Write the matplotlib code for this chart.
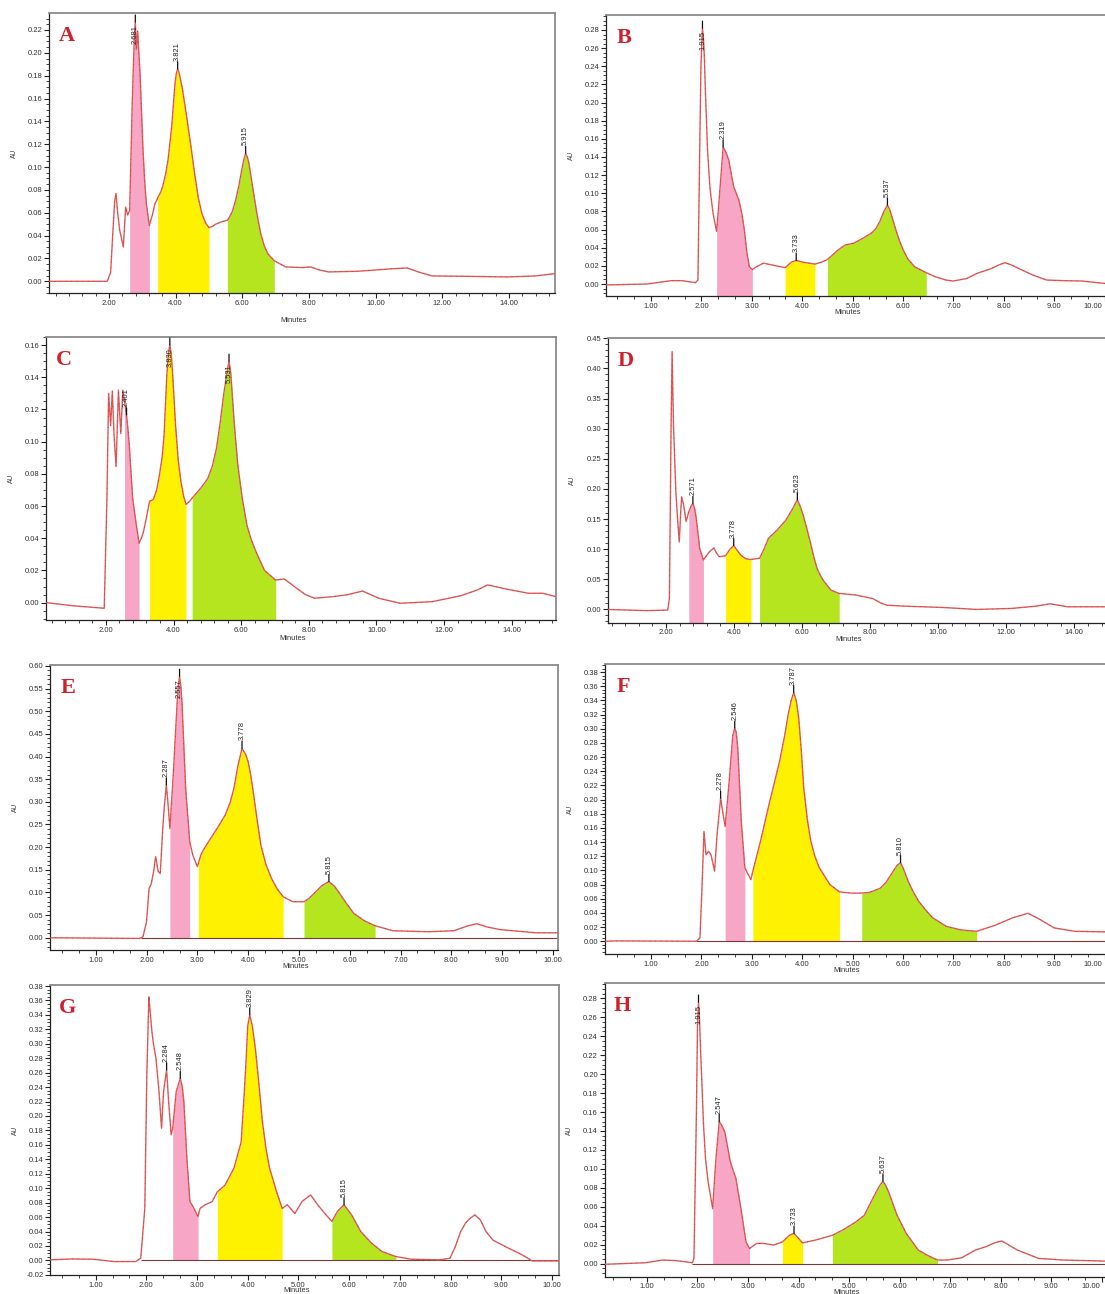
import numpy as np
import matplotlib
matplotlib.use("Agg")
import matplotlib.pyplot as plt
import matplotlib.transforms as mtransforms
from matplotlib.ticker import MultipleLocator, AutoMinorLocator, FormatStrFormatter
from matplotlib import font_manager

# ---------------- data (time in minutes, absorbance in AU) ----------------
trace_A = [(0.20, 0.000), (0.50, 0.000), (1.00, 0.000), (1.50, 0.000), (1.95, 0.000), (2.05, 0.008),
           (2.12, 0.045), (2.17, 0.070), (2.21, 0.077), (2.26, 0.060), (2.32, 0.045), (2.43, 0.030),
           (2.47, 0.050), (2.50, 0.065), (2.56, 0.058), (2.59, 0.060), (2.62, 0.062), (2.66, 0.110),
           (2.70, 0.159), (2.76, 0.214), (2.79, 0.227), (2.82, 0.203), (2.86, 0.219), (2.93, 0.182),
           (2.98, 0.145), (3.02, 0.115), (3.07, 0.088), (3.12, 0.068), (3.21, 0.049), (3.30, 0.058),
           (3.38, 0.068), (3.45, 0.072), (3.46, 0.073), (3.55, 0.078), (3.61, 0.083), (3.70, 0.094),
           (3.77, 0.106), (3.88, 0.135), (3.98, 0.173), (4.02, 0.182), (4.06, 0.186), (4.10, 0.183),
           (4.20, 0.169), (4.30, 0.150), (4.46, 0.118), (4.57, 0.094), (4.68, 0.073), (4.79, 0.059),
           (4.90, 0.051), (5.00, 0.047), (5.10, 0.048), (5.20, 0.050), (5.37, 0.052), (5.55, 0.0535),
           (5.59, 0.055), (5.70, 0.061), (5.80, 0.071), (5.90, 0.084), (5.96, 0.094), (6.04, 0.106),
           (6.10, 0.112), (6.15, 0.109), (6.20, 0.103), (6.27, 0.090), (6.34, 0.077), (6.45, 0.057),
           (6.55, 0.042), (6.66, 0.031), (6.77, 0.024), (6.96, 0.018), (7.30, 0.0126), (7.80, 0.012),
           (8.05, 0.0126), (8.30, 0.010), (8.59, 0.0082), (9.45, 0.0088), (10.52, 0.011), (10.95, 0.0117),
           (11.30, 0.008), (11.70, 0.0047), (12.66, 0.0044), (13.95, 0.0038), (14.80, 0.0047),
           (15.37, 0.0067)]
trace_B = [(0.11, -0.001), (0.92, 0.000), (1.40, 0.0037), (1.61, 0.0037), (1.88, 0.0015), (1.93, 0.0044),
           (1.97, 0.166), (1.99, 0.240), (2.02, 0.282), (2.04, 0.270), (2.055, 0.254), (2.08, 0.210),
           (2.12, 0.148), (2.17, 0.105), (2.23, 0.078), (2.30, 0.058), (2.34, 0.085), (2.37, 0.107),
           (2.43, 0.151), (2.48, 0.146), (2.54, 0.137), (2.64, 0.107), (2.74, 0.093), (2.80, 0.078),
           (2.85, 0.060), (2.90, 0.035), (2.95, 0.019), (3.01, 0.016), (3.09, 0.019), (3.23, 0.023),
           (3.40, 0.021), (3.66, 0.018), (3.78, 0.024), (3.88, 0.026), (4.02, 0.024), (4.25, 0.022),
           (4.38, 0.024), (4.50, 0.027), (4.60, 0.032), (4.71, 0.0375), (4.85, 0.043), (5.02, 0.045),
           (5.19, 0.050), (5.37, 0.056), (5.46, 0.061), (5.54, 0.069), (5.62, 0.080), (5.69, 0.087),
           (5.73, 0.083), (5.78, 0.074), (5.85, 0.061), (5.92, 0.049), (6.00, 0.038), (6.09, 0.028),
           (6.23, 0.019), (6.46, 0.0125), (6.64, 0.008), (6.85, 0.0044), (6.99, 0.0033), (7.26, 0.006),
           (7.47, 0.0118), (7.75, 0.017), (7.90, 0.021), (8.02, 0.0235), (8.15, 0.021), (8.30, 0.017),
           (8.57, 0.010), (8.85, 0.0044), (9.19, 0.0037), (9.54, 0.0033), (10.00, 0.0007), (10.60, 0.000)]
trace_C = [(0.23, 0.000), (1.00, -0.0019), (1.95, -0.0035), (2.03, 0.065), (2.08, 0.130), (2.14, 0.110),
           (2.19, 0.1315), (2.24, 0.104), (2.30, 0.0845), (2.37, 0.132), (2.44, 0.105), (2.50, 0.132),
           (2.55, 0.125), (2.61, 0.1166), (2.65, 0.108), (2.69, 0.098), (2.79, 0.065), (2.90, 0.048),
           (2.98, 0.037), (3.05, 0.040), (3.11, 0.044), (3.20, 0.053), (3.29, 0.063), (3.40, 0.064),
           (3.50, 0.070), (3.58, 0.079), (3.66, 0.090), (3.72, 0.104), (3.80, 0.141), (3.85, 0.155),
           (3.89, 0.160), (3.93, 0.155), (3.97, 0.143), (4.06, 0.110), (4.14, 0.088), (4.22, 0.075),
           (4.30, 0.066), (4.37, 0.061), (4.48, 0.063), (4.55, 0.065), (4.80, 0.071), (5.01, 0.077),
           (5.15, 0.085), (5.27, 0.096), (5.38, 0.112), (5.48, 0.129), (5.58, 0.143), (5.64, 0.150),
           (5.69, 0.143), (5.73, 0.131), (5.80, 0.110), (5.90, 0.0855), (6.03, 0.065), (6.17, 0.048),
           (6.30, 0.039), (6.43, 0.032), (6.69, 0.020), (7.02, 0.014), (7.27, 0.0147), (7.45, 0.012),
           (7.64, 0.0089), (7.90, 0.005), (8.17, 0.0027), (8.70, 0.0037), (9.12, 0.0048), (9.59, 0.0072),
           (10.07, 0.0027), (10.70, -0.0004), (11.65, 0.0006), (12.50, 0.0043), (13.00, 0.008),
           (13.29, 0.011), (13.87, 0.0083), (14.50, 0.0058), (14.92, 0.0058), (15.31, 0.0037)]
trace_D = [(0.28, 0.000), (1.44, -0.002), (2.05, -0.001), (2.10, 0.018), (2.15, 0.306), (2.18, 0.428),
           (2.22, 0.306), (2.29, 0.195), (2.34, 0.150), (2.39, 0.112), (2.43, 0.160), (2.46, 0.187),
           (2.52, 0.173), (2.59, 0.146), (2.67, 0.162), (2.74, 0.172), (2.79, 0.176), (2.84, 0.168),
           (2.89, 0.151), (2.99, 0.101), (3.10, 0.082), (3.20, 0.090), (3.28, 0.096), (3.41, 0.102),
           (3.48, 0.094), (3.56, 0.0875), (3.75, 0.089), (3.88, 0.100), (3.99, 0.106), (4.08, 0.099),
           (4.20, 0.090), (4.35, 0.084), (4.50, 0.083), (4.75, 0.085), (4.88, 0.100), (5.01, 0.118),
           (5.27, 0.132), (5.52, 0.148), (5.70, 0.165), (5.86, 0.182), (5.94, 0.172), (6.03, 0.157),
           (6.14, 0.134), (6.24, 0.112), (6.34, 0.088), (6.44, 0.068), (6.55, 0.055), (6.65, 0.046),
           (6.85, 0.032), (7.09, 0.0266), (7.57, 0.024), (8.08, 0.018), (8.30, 0.011), (8.49, 0.007),
           (9.00, 0.0055), (10.12, 0.0033), (11.14, 0.000), (12.16, 0.0017), (12.88, 0.0055),
           (13.29, 0.0094), (13.80, 0.0044), (14.90, 0.0044), (15.50, 0.004)]
trace_E = [(0.10, 0.000), (1.86, -0.0015), (1.93, 0.002), (2.00, 0.035), (2.05, 0.109), (2.09, 0.118),
           (2.14, 0.146), (2.18, 0.179), (2.23, 0.146), (2.27, 0.142), (2.32, 0.241), (2.35, 0.289),
           (2.39, 0.337), (2.42, 0.300), (2.46, 0.241), (2.53, 0.367), (2.60, 0.514), (2.62, 0.550),
           (2.65, 0.577), (2.68, 0.550), (2.70, 0.514), (2.77, 0.330), (2.85, 0.212), (2.91, 0.183),
           (3.00, 0.157), (3.02, 0.164), (3.07, 0.183), (3.12, 0.194), (3.26, 0.219), (3.41, 0.245),
           (3.55, 0.271), (3.65, 0.300), (3.72, 0.330), (3.80, 0.380), (3.88, 0.418), (3.95, 0.405),
           (4.00, 0.389), (4.05, 0.360), (4.11, 0.315), (4.18, 0.258), (4.25, 0.205), (4.35, 0.162),
           (4.46, 0.131), (4.57, 0.108), (4.69, 0.0906), (4.88, 0.0795), (5.10, 0.0795), (5.20, 0.087),
           (5.30, 0.098), (5.45, 0.115), (5.59, 0.124), (5.70, 0.114), (5.80, 0.098), (5.94, 0.075),
           (6.08, 0.054), (6.28, 0.038), (6.50, 0.0265), (6.85, 0.0155), (7.55, 0.0133), (8.05, 0.0155),
           (8.33, 0.0265), (8.50, 0.031), (8.70, 0.024), (8.96, 0.018), (9.66, 0.011), (10.10, 0.011)]
trace_F = [(0.09, 0.000), (0.30, 0.0005), (1.90, 0.000), (1.97, 0.0047), (2.01, 0.075), (2.05, 0.155),
           (2.09, 0.122), (2.14, 0.127), (2.19, 0.122), (2.26, 0.099), (2.31, 0.151), (2.38, 0.202),
           (2.43, 0.179), (2.47, 0.162), (2.55, 0.226), (2.62, 0.290), (2.66, 0.301), (2.69, 0.295),
           (2.72, 0.273), (2.79, 0.169), (2.86, 0.104), (2.91, 0.0965), (2.98, 0.087), (3.02, 0.099),
           (3.17, 0.141), (3.34, 0.193), (3.55, 0.254), (3.65, 0.290), (3.72, 0.320), (3.78, 0.340),
           (3.83, 0.351), (3.88, 0.340), (3.93, 0.315), (3.98, 0.270), (4.03, 0.216), (4.10, 0.172),
           (4.17, 0.141), (4.25, 0.120), (4.34, 0.1035), (4.55, 0.080), (4.74, 0.0696), (4.97, 0.068),
           (5.18, 0.068), (5.34, 0.069), (5.55, 0.075), (5.66, 0.083), (5.76, 0.094), (5.88, 0.107),
           (5.95, 0.111), (6.01, 0.102), (6.10, 0.085), (6.20, 0.070), (6.31, 0.0565), (6.45, 0.044),
           (6.59, 0.033), (6.86, 0.021), (7.15, 0.016), (7.46, 0.014), (7.83, 0.0226), (8.17, 0.033),
           (8.48, 0.0395), (8.72, 0.0306), (9.00, 0.0188), (9.41, 0.014), (10.02, 0.0132), (10.60, 0.013)]
trace_G = [(0.10, 0.0008), (0.52, 0.002), (0.94, 0.0017), (1.37, -0.0016), (1.79, -0.0016), (1.89, 0.003),
           (1.97, 0.072), (2.01, 0.257), (2.05, 0.365), (2.07, 0.349), (2.11, 0.317), (2.14, 0.300),
           (2.19, 0.280), (2.25, 0.234), (2.30, 0.183), (2.34, 0.234), (2.40, 0.264), (2.44, 0.220),
           (2.49, 0.174), (2.52, 0.183), (2.59, 0.234), (2.67, 0.252), (2.71, 0.240), (2.74, 0.220),
           (2.80, 0.141), (2.86, 0.0815), (2.92, 0.0746), (3.02, 0.0607), (3.06, 0.072), (3.16, 0.077),
           (3.30, 0.0815), (3.40, 0.095), (3.55, 0.104), (3.73, 0.128), (3.87, 0.164), (3.93, 0.230),
           (3.97, 0.280), (4.00, 0.325), (4.04, 0.340), (4.09, 0.325), (4.15, 0.294), (4.22, 0.245),
           (4.29, 0.192), (4.36, 0.155), (4.43, 0.128), (4.57, 0.095), (4.68, 0.072), (4.78, 0.077),
           (4.93, 0.065), (5.07, 0.0815), (5.24, 0.0907), (5.38, 0.077), (5.52, 0.065), (5.66, 0.054),
           (5.77, 0.068), (5.90, 0.077), (6.05, 0.063), (6.23, 0.040), (6.44, 0.024), (6.65, 0.0123),
           (6.92, 0.0054), (7.22, 0.0017), (7.78, 0.0008), (7.99, 0.003), (8.10, 0.020), (8.20, 0.040),
           (8.30, 0.052), (8.38, 0.058), (8.48, 0.063), (8.59, 0.056), (8.70, 0.040), (8.84, 0.028),
           (9.12, 0.0178), (9.35, 0.010), (9.47, 0.0054), (9.61, -0.0007), (10.14, -0.0007)]
trace_H = [(0.13, -0.0007), (0.97, 0.001), (1.31, 0.0039), (1.59, 0.0032), (1.90, 0.001), (1.93, 0.0056),
           (1.98, 0.164), (2.00, 0.250), (2.02, 0.276), (2.04, 0.258), (2.06, 0.227), (2.12, 0.146),
           (2.16, 0.110), (2.21, 0.0865), (2.30, 0.058), (2.36, 0.1075), (2.43, 0.150), (2.48, 0.146),
           (2.54, 0.139), (2.65, 0.1075), (2.76, 0.090), (2.86, 0.058), (2.96, 0.023), (3.03, 0.016),
           (3.17, 0.0214), (3.31, 0.0214), (3.51, 0.0197), (3.68, 0.023), (3.82, 0.030), (3.91, 0.032),
           (4.00, 0.0267), (4.08, 0.022), (4.34, 0.025), (4.67, 0.030), (4.89, 0.036), (5.13, 0.044),
           (5.30, 0.051), (5.47, 0.069), (5.60, 0.082), (5.67, 0.087), (5.72, 0.083), (5.78, 0.076),
           (5.95, 0.051), (6.13, 0.032), (6.37, 0.0144), (6.54, 0.0091), (6.75, 0.0039), (6.95, 0.0039),
           (7.23, 0.0063), (7.50, 0.0144), (7.71, 0.018), (7.88, 0.022), (8.02, 0.024), (8.15, 0.020),
           (8.33, 0.0144), (8.75, 0.0056), (9.23, 0.0039), (10.03, 0.0028), (10.60, 0.0025)]

# integrated regions (start, end) in minutes: pink, yellow, green
regions_A = [(2.62, 3.21), (3.46, 5.00), (5.55, 6.96)]
regions_B = [(2.30, 3.01), (3.66, 4.25), (4.50, 6.46)]
regions_C = [(2.55, 2.98), (3.29, 4.37), (4.55, 7.02)]
regions_D = [(2.67, 3.10), (3.75, 4.50), (4.75, 7.09)]
regions_E = [(2.46, 2.85), (3.02, 4.69), (5.10, 6.50)]
regions_F = [(2.47, 2.86), (3.02, 4.74), (5.18, 7.46)]
regions_G = [(2.52, 3.02), (3.40, 4.68), (5.66, 6.92)]
regions_H = [(2.30, 3.03), (3.68, 4.08), (4.67, 6.75)]

# peak annotations: (label text, apex time as drawn)
peaks_A = [("2.681", 2.79), ("3.821", 4.06), ("5.915", 6.10)]
peaks_B = [("1.915", 2.02), ("2.319", 2.43), ("3.733", 3.88), ("5.537", 5.69)]
peaks_C = [("2.401", 2.61), ("3.830", 3.89), ("5.531", 5.64)]
peaks_D = [("2.571", 2.79), ("3.778", 3.99), ("5.623", 5.86)]
peaks_E = [("2.287", 2.39), ("2.557", 2.65), ("3.778", 3.88), ("5.815", 5.59)]
peaks_F = [("2.278", 2.38), ("2.546", 2.66), ("3.787", 3.83), ("5.810", 5.95)]
peaks_G = [("2.284", 2.40), ("2.548", 2.67), ("3.829", 4.04), ("5.815", 5.90)]
peaks_H = [("1.915", 2.02), ("2.547", 2.43), ("3.733", 3.91), ("5.637", 5.67)]

panel_letters = ["A", "B", "C", "D", "E", "F", "G", "H"]

# ---------------- layout / style ----------------
W, H = 1105, 1294
fig = plt.figure(figsize=(W / 100, H / 100), dpi=100)
fig.patch.set_facecolor("white")

names = {f.name for f in font_manager.fontManager.ttflist}
narrow = "Liberation Sans Narrow" if "Liberation Sans Narrow" in names else None
sans = "Liberation Sans" if "Liberation Sans" in names else "DejaVu Sans"
serif = "Liberation Serif" if "Liberation Serif" in names else "DejaVu Serif"
peak_font = narrow if narrow else sans
peak_size = 6.2 if narrow else 5.4

FILL_COLORS = ["#f7a6c5", "#fff200", "#b4e51e"]
LINE_COLOR = "#e25a5a"

panels = [
    dict(L=49, R=554.6, T=13.3, B=293.3, xlim=(0.2, 15.37), ylim=(-0.0105, 0.2346), ys=0.02, xs=2, xm=5, floor="axis", mlab=27),
    dict(L=606.2, R=1134.9, T=15, B=296, xlim=(0.11, 10.6), ylim=(-0.0132, 0.2965), ys=0.02, xs=1, xm=3, floor="axis", mlab=17),
    dict(L=46, R=556, T=336.7, B=620, xlim=(0.228, 15.31), ylim=(-0.0108, 0.1652), ys=0.02, xs=2, xm=5, floor="axis", mlab=18),
    dict(L=607.6, R=1125.4, T=338.3, B=622.7, xlim=(0.284, 15.5), ylim=(-0.022, 0.45), ys=0.05, xs=2, xm=5, floor="axis", mlab=17),
    dict(L=50, R=558, T=665, B=950, xlim=(0.1, 10.1), ylim=(-0.027, 0.602), ys=0.05, xs=1, xm=3, floor="zero", mlab=17),
    dict(L=605.2, R=1134.9, T=664.3, B=954, xlim=(0.09, 10.6), ylim=(-0.018, 0.391), ys=0.02, xs=1, xm=3, floor="zero", mlab=17),
    dict(L=50, R=559, T=985, B=1275, xlim=(0.1, 10.14), ylim=(-0.0202, 0.3814), ys=0.02, xs=1, xm=3, floor="zero", mlab=16),
    dict(L=604.5, R=1132.1, T=983.3, B=1276.7, xlim=(0.16, 10.6), ylim=(-0.0137, 0.2958), ys=0.02, xs=1, xm=3, floor="zero", mlab=16),
]
traces = [trace_A, trace_B, trace_C, trace_D, trace_E, trace_F, trace_G, trace_H]
regions = [regions_A, regions_B, regions_C, regions_D, regions_E, regions_F, regions_G, regions_H]
peaks = [peaks_A, peaks_B, peaks_C, peaks_D, peaks_E, peaks_F, peaks_G, peaks_H]

renderer = fig.canvas.get_renderer()
for i, p in enumerate(panels):
    ax = fig.add_axes([p["L"] / W, 1 - p["B"] / H, (p["R"] - p["L"]) / W, (p["B"] - p["T"]) / H])
    t = np.array([q[0] for q in traces[i]])
    v = np.array([q[1] for q in traces[i]])
    ax.set_xlim(*p["xlim"])
    ax.set_ylim(*p["ylim"])
    floor = p["ylim"][0] if p["floor"] == "axis" else 0.0
    for (a, b), col in zip(regions[i], FILL_COLORS):
        m = (t >= a - 1e-9) & (t <= b + 1e-9)
        ax.fill_between(t[m], v[m], floor, color=col, linewidth=0, zorder=1)
    if p["floor"] == "zero":
        ax.hlines(0, 1.9, p["xlim"][1], color="#7a3a3a", lw=0.8, zorder=2)
    ax.plot(t, v, color=LINE_COLOR, lw=1.0, zorder=3, solid_joinstyle="round")
    ax.plot(t, v, color="#3a1010", lw=0.5, ls=(0, (1, 7)), alpha=0.5, zorder=4)

    for s in ["left", "bottom"]:
        ax.spines[s].set_color("#222222")
        ax.spines[s].set_linewidth(0.9)
    for s in ["top", "right"]:
        ax.spines[s].set_color("#8a8a8a")
        ax.spines[s].set_linewidth(1.3)
    ax.xaxis.set_major_locator(MultipleLocator(p["xs"]))
    ax.xaxis.set_minor_locator(AutoMinorLocator(p["xm"]))
    ax.yaxis.set_major_locator(MultipleLocator(p["ys"]))
    ax.yaxis.set_minor_locator(AutoMinorLocator(5 if p["ys"] == 0.05 else 4))
    ax.xaxis.set_major_formatter(FormatStrFormatter("%.2f"))
    ax.yaxis.set_major_formatter(FormatStrFormatter("%.2f"))
    ax.tick_params(axis="both", which="major", direction="out", length=3.5, width=0.8,
                   labelsize=5.5, pad=1.2, colors="#222222", labelcolor="#333333")
    ax.tick_params(axis="both", which="minor", direction="out", length=2, width=0.6, colors="#222222")
    for lab in ax.get_xticklabels() + ax.get_yticklabels():
        lab.set_fontfamily(sans)
    # tick labels running into the right edge of the page: keep them readable
    for tk in ax.xaxis.get_major_ticks():
        xd = ax.transData.transform((tk.get_loc(), 0))[0]
        if p["xlim"][0] <= tk.get_loc() and xd > W - 14:
            tk.label1.set_horizontalalignment("right")
            tk.label1.set_transform(tk.label1.get_transform() +
                                    mtransforms.ScaledTranslation(-2 / 100, 0, fig.dpi_scale_trans))

    fig.text((p["L"] + 18) / W, 1 - (p["T"] + 23) / H, panel_letters[i], fontsize=16,
             fontweight="bold", family=serif, color="#d1202b", ha="center", va="center")
    fig.text((p["L"] - 35) / W, 1 - ((p["T"] + p["B"]) / 2) / H, "AU", rotation=90, fontsize=4.8,
             family=sans, color="#333333", ha="center", va="center")
    xc = (p["L"] + min(p["R"], W)) / 2 - 8
    fig.text(xc / W, 1 - (p["B"] + p["mlab"]) / H, "Minutes", fontsize=5.4, family=sans,
             color="#333333", ha="center", va="center")

    top_disp = ax.bbox.y1
    for lab, tp in peaks[i]:
        k = int(np.argmin(np.abs(t - tp)))
        x0, y0 = t[k], v[k]
        ax.annotate("", xy=(x0, y0), xytext=(0, 7), textcoords="offset pixels",
                    arrowprops=dict(arrowstyle="-", lw=0.9, color="#111111", shrinkA=0, shrinkB=0),
                    zorder=5)
        txt = ax.annotate(lab, xy=(x0, y0), xytext=(0, 8), textcoords="offset pixels",
                          rotation=90, ha="center", va="bottom", fontsize=peak_size,
                          family=peak_font, color="#222222", zorder=6)
        bb = txt.get_window_extent(renderer)
        if bb.y1 > top_disp - 1:
            txt.set_position((0, -3))
            txt.set_va("top")

fig.savefig("out.png", dpi=100, facecolor="white")
